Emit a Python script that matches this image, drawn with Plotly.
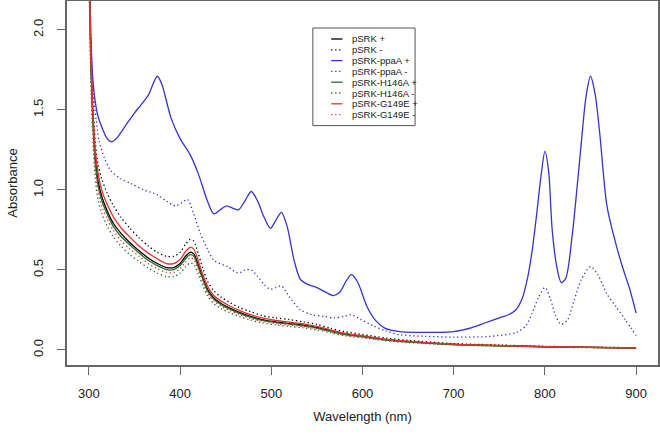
import plotly.graph_objects as go

# wavelength grids (nm)
wl_low = [300, 302, 304, 307, 310, 314, 320, 327, 335, 345, 355, 365, 375, 385, 393, 400,
          406, 411, 415, 420, 425, 430, 437, 445, 455, 465, 477, 490, 505, 520, 535, 550,
          565, 580, 600, 625, 650, 700, 750, 800, 850, 900]

srk_plus = [2.45, 1.85, 1.5, 1.2, 1.06, 0.96, 0.87, 0.79, 0.73, 0.67, 0.62, 0.575, 0.54, 0.515,
            0.515, 0.54, 0.585, 0.61, 0.6, 0.53, 0.45, 0.38, 0.325, 0.29, 0.26, 0.235, 0.21,
            0.19, 0.175, 0.165, 0.155, 0.14, 0.12, 0.1, 0.085, 0.065, 0.052, 0.035, 0.027,
            0.02, 0.016, 0.012]
srk_minus = [2.5, 1.95, 1.6, 1.3, 1.16, 1.07, 0.98, 0.9, 0.83, 0.76, 0.70, 0.65, 0.61, 0.585,
             0.585, 0.61, 0.66, 0.69, 0.68, 0.60, 0.51, 0.43, 0.37, 0.33, 0.295, 0.265, 0.24,
             0.215, 0.2, 0.19, 0.175, 0.16, 0.135, 0.115, 0.097, 0.075, 0.06, 0.04, 0.031,
             0.023, 0.018, 0.014]
h146a_plus = [2.42, 1.82, 1.47, 1.17, 1.03, 0.935, 0.85, 0.77, 0.71, 0.655, 0.605, 0.56, 0.527,
              0.502, 0.502, 0.527, 0.57, 0.595, 0.585, 0.517, 0.44, 0.37, 0.317, 0.283, 0.254,
              0.229, 0.205, 0.185, 0.171, 0.161, 0.151, 0.137, 0.117, 0.098, 0.083, 0.063,
              0.051, 0.034, 0.026, 0.02, 0.016, 0.012]
h146a_minus = [2.35, 1.72, 1.36, 1.07, 0.94, 0.855, 0.775, 0.705, 0.65, 0.595, 0.552, 0.512,
               0.48, 0.458, 0.458, 0.48, 0.52, 0.543, 0.534, 0.472, 0.4, 0.338, 0.289, 0.258,
               0.231, 0.209, 0.187, 0.169, 0.156, 0.147, 0.138, 0.125, 0.107, 0.089, 0.076,
               0.058, 0.046, 0.031, 0.024, 0.018, 0.014, 0.011]
g149e_plus = [2.47, 1.9, 1.55, 1.25, 1.11, 1.0, 0.91, 0.83, 0.765, 0.705, 0.65, 0.605, 0.57,
              0.54, 0.54, 0.565, 0.615, 0.64, 0.63, 0.555, 0.47, 0.4, 0.34, 0.305, 0.273,
              0.247, 0.22, 0.2, 0.184, 0.173, 0.163, 0.147, 0.126, 0.105, 0.089, 0.068, 0.055,
              0.037, 0.028, 0.021, 0.017, 0.013]
g149e_minus = [2.4, 1.78, 1.42, 1.13, 1.0, 0.9, 0.82, 0.745, 0.685, 0.63, 0.585, 0.54, 0.508,
               0.484, 0.484, 0.508, 0.55, 0.575, 0.565, 0.5, 0.423, 0.357, 0.305, 0.273, 0.245,
               0.221, 0.197, 0.179, 0.165, 0.155, 0.146, 0.132, 0.113, 0.094, 0.08, 0.061,
               0.049, 0.033, 0.025, 0.019, 0.015, 0.011]

wl_ppaa_plus = [300, 302, 304, 307, 310, 315, 320, 325, 330, 340, 350, 357, 365, 375, 380, 390,
                400, 411, 420, 430, 437, 445, 451, 458, 464, 471, 478, 485, 492, 499, 505, 511,
                517, 525, 532, 540, 550, 560, 568, 575, 582, 588, 595, 605, 615, 625, 641, 660,
                680, 700, 720, 735, 750, 760, 768, 775, 781, 786, 791, 796, 800, 804, 808, 813,
                818, 823, 830, 835, 840, 845, 850, 855, 860, 868, 877, 885, 893, 900]
ppaa_plus = [2.5, 2.0, 1.72, 1.55, 1.46, 1.38, 1.32, 1.30, 1.32, 1.40, 1.48, 1.53, 1.59, 1.71,
             1.66, 1.45, 1.32, 1.22, 1.10, 0.93, 0.85, 0.88, 0.9, 0.885, 0.875, 0.93, 0.99,
             0.93, 0.83, 0.76, 0.81, 0.86, 0.78, 0.56, 0.44, 0.41, 0.39, 0.36, 0.34, 0.36,
             0.43, 0.47, 0.42, 0.27, 0.18, 0.135, 0.115, 0.11, 0.11, 0.115, 0.14, 0.17, 0.2,
             0.22, 0.25, 0.32, 0.45, 0.62, 0.85, 1.1, 1.24, 1.12, 0.75, 0.52, 0.42, 0.45, 0.72,
             1.0, 1.3, 1.58, 1.71, 1.6, 1.36, 0.9, 0.68, 0.52, 0.38, 0.23]

wl_ppaa_minus = [300, 302, 305, 308, 311, 317, 324, 335, 346, 360, 375, 385, 395, 402, 408,
                 415, 422, 430, 437, 452, 464, 471, 478, 485, 492, 499, 505, 511, 520, 532, 545,
                 558, 568, 580, 588, 598, 612, 625, 641, 670, 700, 740, 769, 779, 786, 793, 800,
                 806, 812, 818, 825, 832, 840, 850, 858, 868, 878, 888, 900]
ppaa_minus = [2.45, 1.9, 1.6, 1.44, 1.31, 1.2, 1.12, 1.07, 1.04, 1.0, 0.97, 0.93, 0.9, 0.92,
              0.94, 0.85, 0.73, 0.63, 0.56, 0.52, 0.48, 0.5, 0.5, 0.46, 0.41, 0.38, 0.39, 0.40,
              0.33, 0.25, 0.22, 0.21, 0.2, 0.21, 0.22, 0.19, 0.15, 0.12, 0.095, 0.085, 0.08,
              0.085, 0.11, 0.15, 0.23, 0.33, 0.39, 0.32, 0.21, 0.16, 0.19, 0.31, 0.44, 0.52,
              0.47, 0.35, 0.27, 0.19, 0.09]

names = ['pSRK +', 'pSRK -', 'pSRK-ppaA +', 'pSRK-ppaA -',
         'pSRK-H146A +', 'pSRK-H146A -', 'pSRK-G149E +', 'pSRK-G149E -']
colors = ['#000000', '#000000', '#3434d6', '#3434d6',
          '#2d6a2d', '#2d6a2d', '#e8322e', '#e8322e']
DOT = '1.3px,2.7px'
dashes = ['solid', DOT, 'solid', DOT, 'solid', DOT, 'solid', DOT]
xs = [wl_low, wl_low, wl_ppaa_plus, wl_ppaa_minus, wl_low, wl_low, wl_low, wl_low]
ys = [srk_plus, srk_minus, ppaa_plus, ppaa_minus, h146a_plus, h146a_minus, g149e_plus, g149e_minus]

FONT = 'Liberation Sans, Arial, sans-serif'

fig = go.Figure()
for x, y, n, c, d in zip(xs, ys, names, colors, dashes):
    fig.add_trace(go.Scatter(
        x=x, y=y, name=n, mode='lines',
        line=dict(color=c, dash=d, width=1.3, shape='spline', smoothing=0.8),
        showlegend=False
    ))

# hand-built legend, R style (compact rows)
row_gap = 10.8
first_row = 39
lx0, lx1 = 0.416, 0.589
ly_top = (365 - 28) / 364
ly_bot = (365 - (first_row + 7 * row_gap + 11)) / 364
shapes = [dict(type='rect', xref='paper', yref='paper', x0=lx0, x1=lx1, y0=ly_bot, y1=ly_top,
               line=dict(color='#555555', width=1), fillcolor='white', layer='above')]
annotations = []
for i, (n, c, d) in enumerate(zip(names, colors, dashes)):
    yy = (365 - (first_row + row_gap * i)) / 364
    shapes.append(dict(type='line', xref='paper', yref='paper', x0=0.447, x1=0.466, y0=yy, y1=yy,
                       line=dict(color=c, dash=d, width=1.3), layer='above'))
    annotations.append(dict(xref='paper', yref='paper', x=0.481, y=yy, text=n, showarrow=False,
                            xanchor='left', yanchor='middle', borderpad=0,
                            font=dict(family=FONT, size=9.5, color='#222222')))

fig.update_layout(
    width=660, height=435,
    margin=dict(l=67, r=2, t=1, b=70),
    paper_bgcolor='white', plot_bgcolor='white',
    font=dict(family=FONT, size=13, color='#222222'),
    shapes=shapes, annotations=annotations,
    showlegend=False,
)
fig.update_xaxes(
    range=[276, 924], tickvals=[300, 400, 500, 600, 700, 800, 900],
    ticks='outside', ticklen=8, tickcolor='#666666', tickwidth=1,
    showline=True, mirror=True, linecolor='#666666', linewidth=1.5,
    showgrid=False, zeroline=False, ticklabelstandoff=8, automargin=False,
    title=dict(text='Wavelength (nm)', standoff=12, font=dict(size=13)),
)
fig.update_yaxes(
    range=[-0.094, 2.18], tickvals=[0, 0.5, 1.0, 1.5, 2.0],
    ticktext=['0.0', '0.5', '1.0', '1.5', '2.0'], tickangle=-90,
    ticks='outside', ticklen=8, tickcolor='#666666', tickwidth=1,
    showline=True, mirror=True, linecolor='#666666', linewidth=1.5,
    showgrid=False, zeroline=False, ticklabelstandoff=9, automargin=False,
    title=dict(text='Absorbance', standoff=10, font=dict(size=13)),
)

fig.write_html('out.html', config={'displayModeBar': False},
               post_script="document.body.style.margin='0';")
